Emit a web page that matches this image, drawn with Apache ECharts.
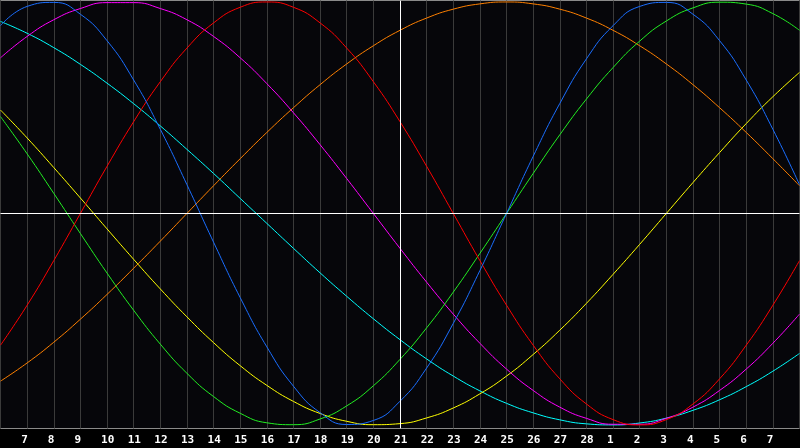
<!DOCTYPE html>
<html>
<head>
<meta charset="utf-8">
<script src="https://cdn.jsdelivr.net/npm/echarts@6/dist/echarts.min.js"></script>
<style>
html,body{margin:0;padding:0;background:#000;}
#chart{width:800px;height:448px;}
</style>
</head>
<body>
<div id="chart"></div>
<script>
// Day positions (6 = left edge, 36 = right edge)
const days = [6,7,8,9,10,11,12,13,14,15,16,17,18,19,20,21,22,23,24,25,26,27,28,29,30,31,32,33,34,35,36];
// Tick labels for days 7..35
const tickLabels = ["7","8","9","10","11","12","13","14","15","16","17","18","19","20","21","22","23","24","25","26","27","28","1","2","3","4","5","6","7"];

const blue = [0.888,0.979,0.998,0.942,0.817,0.631,0.398,0.136,-0.136,-0.398,-0.631,-0.817,-0.942,-0.998,-0.979,-0.888,-0.731,-0.520,-0.270,0,0.270,0.520,0.731,0.888,0.979,0.998,0.942,0.817,0.631,0.398,0.136];
const red = [-0.623,-0.434,-0.223,0,0.223,0.434,0.623,0.782,0.901,0.975,1,0.975,0.901,0.782,0.623,0.434,0.223,0,-0.223,-0.434,-0.623,-0.782,-0.901,-0.975,-1,-0.975,-0.901,-0.782,-0.623,-0.434,-0.223];
const green = [0.458,0.282,0.095,-0.095,-0.282,-0.458,-0.618,-0.756,-0.866,-0.945,-0.990,-0.999,-0.972,-0.910,-0.815,-0.690,-0.541,-0.372,-0.189,0,0.189,0.372,0.541,0.690,0.815,0.910,0.972,0.999,0.990,0.945,0.866];
const magenta = [0.736,0.837,0.916,0.969,0.997,0.997,0.969,0.916,0.837,0.736,0.614,0.476,0.325,0.165,0,-0.165,-0.325,-0.476,-0.614,-0.736,-0.837,-0.916,-0.969,-0.997,-0.997,-0.969,-0.916,-0.837,-0.736,-0.614,-0.476];
const yellow = [0.489,0.357,0.217,0.073,-0.073,-0.217,-0.357,-0.489,-0.611,-0.720,-0.813,-0.889,-0.946,-0.983,-0.999,-0.994,-0.967,-0.920,-0.853,-0.769,-0.667,-0.552,-0.425,-0.288,-0.146,0,0.146,0.288,0.425,0.552,0.667];
const orange = [-0.793,-0.707,-0.609,-0.5,-0.383,-0.259,-0.131,0,0.131,0.259,0.383,0.5,0.609,0.707,0.793,0.866,0.924,0.966,0.991,1.0,0.991,0.966,0.924,0.866,0.793,0.707,0.609,0.5,0.383,0.259,0.131];
const cyan = [0.908,0.852,0.784,0.705,0.616,0.519,0.414,0.303,0.189,0.071,-0.047,-0.165,-0.281,-0.392,-0.498,-0.597,-0.688,-0.769,-0.839,-0.898,-0.943,-0.976,-0.995,-1.000,-0.991,-0.968,-0.931,-0.881,-0.819,-0.746,-0.662];

const seriesDefs = [
  {name:'orange', data:orange, color:'#ff8000'},
  {name:'cyan', data:cyan, color:'#00ffff'},
  {name:'yellow', data:yellow, color:'#ffff00'},
  {name:'magenta', data:magenta, color:'#ff00ff'},
  {name:'green', data:green, color:'#22ee22'},
  {name:'red', data:red, color:'#ff0000'},
  {name:'blue', data:blue, color:'#1a6eff'}
];

const chart = echarts.init(document.getElementById('chart'), null, {renderer:'canvas'});

const series = seriesDefs.map(s => ({
  type:'line',
  name:s.name,
  xAxisIndex:0, yAxisIndex:0,
  data: days.map((d,i)=>[d, s.data[i]]),
  smooth:true,
  showSymbol:false,
  lineStyle:{color:s.color, width:1},
  itemStyle:{color:s.color},
  silent:true,
  z:3
}));

series.push({
  type:'line',
  xAxisIndex:0, yAxisIndex:0,
  data:[],
  silent:true,
  z:2,
  markLine:{
    silent:true,
    symbol:'none',
    label:{show:false},
    lineStyle:{color:'#ffffff', width:1, type:'solid'},
    data:[{xAxis:21},{yAxis:0}]
  }
});

const labelDays = days.slice(1, days.length - 1);

chart.setOption({
  animation:false,
  backgroundColor:'#000000',
  grid:[
    {left:0.5, top:0.5, width:799, height:428, show:true, backgroundColor:'#06060a', borderColor:'#8a8a8a', borderWidth:1},
    {left:0.5, top:0.5, width:799, height:428, show:false}
  ],
  xAxis:[
    {type:'value', gridIndex:0, min:6, max:36, interval:1,
     axisLine:{show:false}, axisTick:{show:false}, axisLabel:{show:false},
     splitLine:{show:true, lineStyle:{color:'#3a3a3a', width:1}}},
    {type:'value', gridIndex:1, min:6.225, max:36.225,
     axisLine:{show:false}, axisTick:{show:false}, splitLine:{show:false},
     axisLabel:{show:true, customValues:labelDays, align:'left', margin:6, color:'#ffffff', fontWeight:'bold', fontSize:11,
       fontFamily:'DejaVu Sans Mono',
       formatter:function(v){ const i = Math.round(v)-7; return (i>=0 && i<tickLabels.length) ? tickLabels[i] : ''; }}}
  ],
  yAxis:[
    {type:'value', gridIndex:0, min:-1.017, max:1.007, show:false, splitLine:{show:false}},
    {type:'value', gridIndex:1, min:-1, max:1, show:false}
  ],
  series:series
});
</script>
</body>
</html>
